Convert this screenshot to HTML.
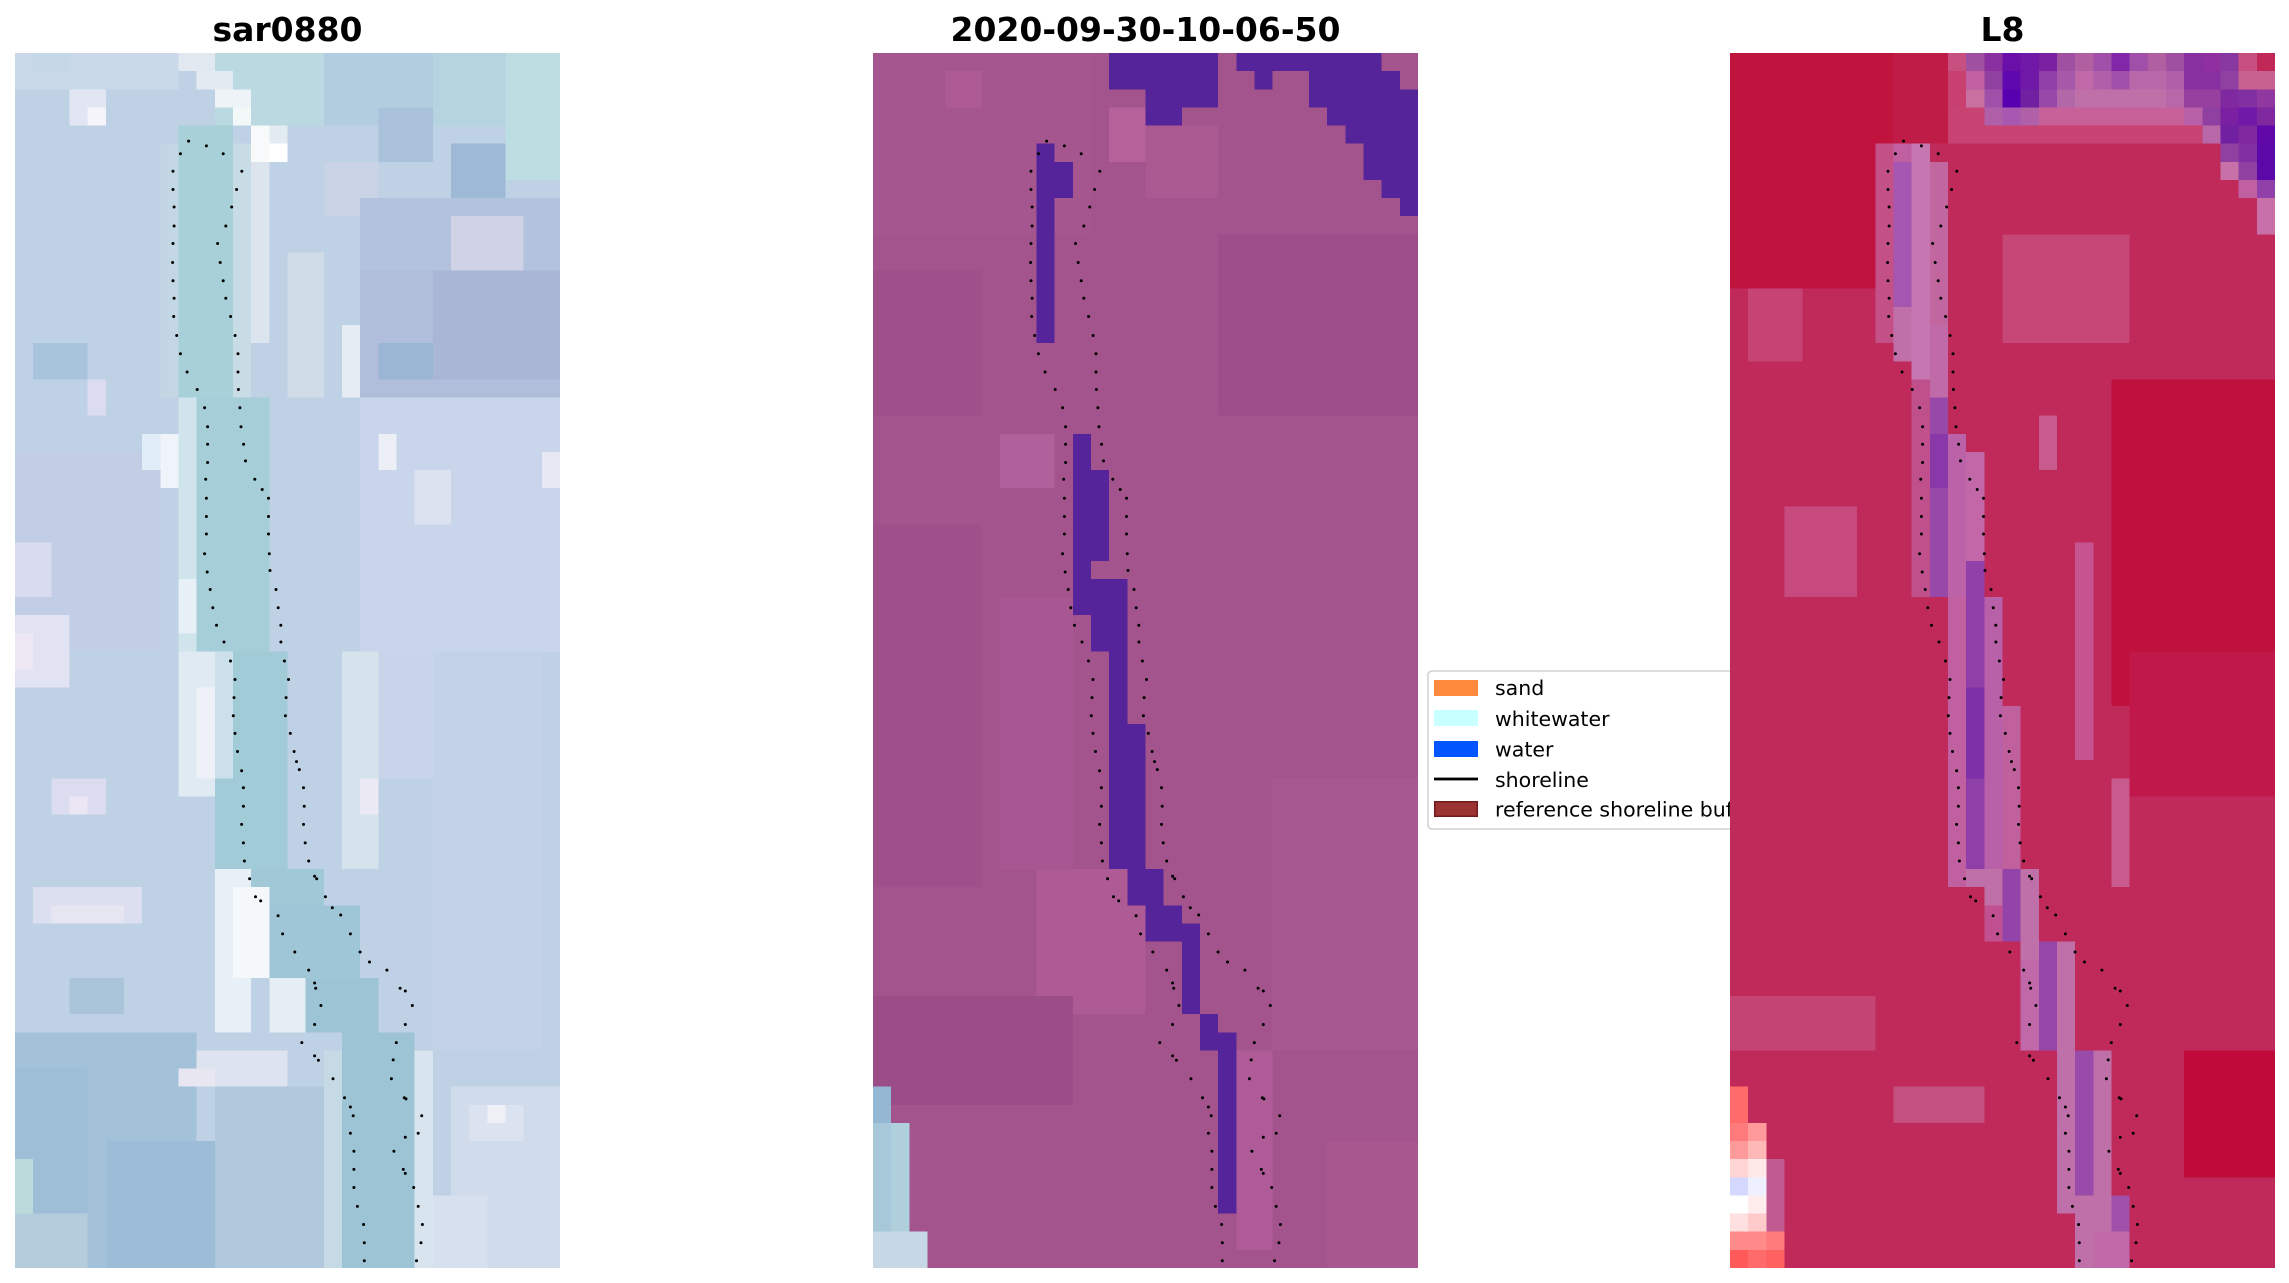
<!DOCTYPE html>
<html>
<head>
<meta charset="utf-8">
<style>
html,body{margin:0;padding:0;background:#fff;}
svg{display:block;}
.t{font-family:"DejaVu Sans","Liberation Sans",sans-serif;font-weight:bold;font-size:33px;fill:#000;}
.l{font-family:"DejaVu Sans","Liberation Sans",sans-serif;font-size:20.5px;fill:#000;}
</style>
</head>
<body>
<svg width="2289" height="1283" viewBox="0 0 2289 1283" xmlns="http://www.w3.org/2000/svg">
<defs>
<g id="dots" fill="#000">
<circle cx="165.4" cy="100.8" r="1.5"/><circle cx="158" cy="118.3" r="1.5"/><circle cx="158" cy="136.5" r="1.5"/><circle cx="159.1" cy="154" r="1.5"/><circle cx="159.1" cy="173" r="1.5"/><circle cx="158" cy="190.5" r="1.5"/><circle cx="157.6" cy="209.5" r="1.5"/><circle cx="158" cy="227.8" r="1.5"/><circle cx="159.1" cy="245.2" r="1.5"/><circle cx="158.7" cy="263.5" r="1.5"/><circle cx="161.7" cy="282.5" r="1.5"/><circle cx="165.4" cy="300.8" r="1.5"/><circle cx="172.1" cy="319" r="1.5"/><circle cx="182.2" cy="336.5" r="1.5"/><circle cx="189.6" cy="354.8" r="1.5"/><circle cx="192.6" cy="373.8" r="1.5"/><circle cx="192.6" cy="391.3" r="1.5"/><circle cx="192.6" cy="409.5" r="1.5"/><circle cx="190.7" cy="426.2" r="1.5"/><circle cx="191.4" cy="445.2" r="1.5"/><circle cx="191.4" cy="463.5" r="1.5"/><circle cx="191.4" cy="481" r="1.5"/><circle cx="189.6" cy="500.8" r="1.5"/><circle cx="192.2" cy="519" r="1.5"/><circle cx="195.2" cy="536.5" r="1.5"/><circle cx="197.8" cy="554.8" r="1.5"/><circle cx="201.5" cy="572.2" r="1.5"/>
<circle cx="209" cy="589" r="1.5"/><circle cx="215.5" cy="608" r="1.5"/><circle cx="220" cy="626.5" r="1.5"/><circle cx="219" cy="644.6" r="1.5"/><circle cx="218.3" cy="662.7" r="1.5"/><circle cx="220" cy="680.4" r="1.5"/><circle cx="222.5" cy="698.5" r="1.5"/><circle cx="226.6" cy="717.8" r="1.5"/><circle cx="228.4" cy="734.7" r="1.5"/><circle cx="228.4" cy="753.3" r="1.5"/><circle cx="226.6" cy="771.4" r="1.5"/><circle cx="228.4" cy="789.9" r="1.5"/><circle cx="229.4" cy="808" r="1.5"/><circle cx="234.6" cy="825.7" r="1.5"/><circle cx="240.5" cy="843.8" r="1.5"/><circle cx="245.7" cy="847.9" r="1.5"/><circle cx="263.1" cy="862.8" r="1.5"/><circle cx="267.6" cy="880.9" r="1.5"/><circle cx="279.8" cy="899" r="1.5"/><circle cx="293.7" cy="917.1" r="1.5"/><circle cx="299.6" cy="930" r="1.5"/><circle cx="300.7" cy="935.2" r="1.5"/><circle cx="305.9" cy="952.5" r="1.5"/><circle cx="299.6" cy="971.5" r="1.5"/><circle cx="286.8" cy="989.6" r="1.5"/><circle cx="299.6" cy="1002.9" r="1.5"/><circle cx="303.4" cy="1007.3" r="1.5"/><circle cx="318" cy="1025.8" r="1.5"/><circle cx="329.5" cy="1044.7" r="1.5"/><circle cx="335.4" cy="1054" r="1.5"/><circle cx="338.2" cy="1062.8" r="1.5"/><circle cx="335.4" cy="1080.2" r="1.5"/><circle cx="338.9" cy="1098.3" r="1.5"/><circle cx="338.9" cy="1116.4" r="1.5"/><circle cx="338.9" cy="1134.5" r="1.5"/><circle cx="342.4" cy="1153.4" r="1.5"/><circle cx="348.6" cy="1171.5" r="1.5"/><circle cx="349.3" cy="1189.7" r="1.5"/><circle cx="349.3" cy="1207.8" r="1.5"/>
<circle cx="173.6" cy="88.1" r="1.5"/><circle cx="191.4" cy="92.9" r="1.5"/><circle cx="208.2" cy="100.8" r="1.5"/><circle cx="226.8" cy="118.3" r="1.5"/><circle cx="221.6" cy="136.5" r="1.5"/><circle cx="216.7" cy="154" r="1.5"/><circle cx="210.8" cy="173" r="1.5"/><circle cx="202.6" cy="190.5" r="1.5"/><circle cx="205.2" cy="209.5" r="1.5"/><circle cx="208.2" cy="227.8" r="1.5"/><circle cx="210.8" cy="245.2" r="1.5"/><circle cx="215.6" cy="263.5" r="1.5"/><circle cx="220.1" cy="282.5" r="1.5"/><circle cx="223" cy="300.8" r="1.5"/><circle cx="223" cy="319" r="1.5"/><circle cx="223.4" cy="336.5" r="1.5"/><circle cx="224.9" cy="354.8" r="1.5"/><circle cx="226" cy="373.8" r="1.5"/><circle cx="228.6" cy="391.3" r="1.5"/><circle cx="230.5" cy="407.9" r="1.5"/><circle cx="239.8" cy="426.2" r="1.5"/><circle cx="247.2" cy="436.5" r="1.5"/><circle cx="253.5" cy="445.2" r="1.5"/><circle cx="253.5" cy="463.5" r="1.5"/><circle cx="253.5" cy="481" r="1.5"/><circle cx="254.3" cy="500.8" r="1.5"/><circle cx="255" cy="517.5" r="1.5"/><circle cx="261" cy="536.5" r="1.5"/><circle cx="263.2" cy="554.8" r="1.5"/><circle cx="265.8" cy="572.2" r="1.5"/>
<circle cx="265.9" cy="589" r="1.5"/><circle cx="269.4" cy="608" r="1.5"/><circle cx="273.5" cy="626.5" r="1.5"/><circle cx="271.1" cy="644.6" r="1.5"/><circle cx="270.4" cy="662.7" r="1.5"/><circle cx="275.3" cy="680.4" r="1.5"/><circle cx="279.1" cy="698.5" r="1.5"/><circle cx="281.5" cy="708.6" r="1.5"/><circle cx="284.3" cy="716.6" r="1.5"/><circle cx="288.5" cy="734.7" r="1.5"/><circle cx="289.2" cy="753.3" r="1.5"/><circle cx="288.5" cy="771.4" r="1.5"/><circle cx="290.2" cy="789.9" r="1.5"/><circle cx="293.7" cy="808" r="1.5"/><circle cx="299.6" cy="823.3" r="1.5"/><circle cx="301.7" cy="825.7" r="1.5"/><circle cx="310.4" cy="843.8" r="1.5"/><circle cx="317.3" cy="854.7" r="1.5"/><circle cx="325.7" cy="862" r="1.5"/><circle cx="335.4" cy="880.9" r="1.5"/><circle cx="345.1" cy="899" r="1.5"/><circle cx="354.5" cy="909" r="1.5"/><circle cx="371.9" cy="917.1" r="1.5"/><circle cx="385.1" cy="935.2" r="1.5"/><circle cx="390.3" cy="938" r="1.5"/><circle cx="397.3" cy="952.5" r="1.5"/><circle cx="390.3" cy="971.5" r="1.5"/><circle cx="381.3" cy="989.6" r="1.5"/><circle cx="378.2" cy="1006.9" r="1.5"/><circle cx="376.4" cy="1025.8" r="1.5"/><circle cx="389.3" cy="1044.7" r="1.5"/><circle cx="391" cy="1045.9" r="1.5"/><circle cx="406.7" cy="1062.8" r="1.5"/><circle cx="403.2" cy="1080.2" r="1.5"/><circle cx="390.3" cy="1084.2" r="1.5"/><circle cx="378.9" cy="1098.3" r="1.5"/><circle cx="388.3" cy="1116.4" r="1.5"/><circle cx="390.3" cy="1120.4" r="1.5"/><circle cx="398.7" cy="1134.5" r="1.5"/><circle cx="403.2" cy="1153.4" r="1.5"/><circle cx="407.4" cy="1171.5" r="1.5"/><circle cx="406" cy="1189.7" r="1.5"/><circle cx="401.5" cy="1207.8" r="1.5"/>
</g>
</defs>

<rect x="0" y="0" width="2289" height="1283" fill="#fff"/>

<!-- Titles -->
<text class="t" x="287.5" y="41" text-anchor="middle">sar0880</text>
<text class="t" x="1145.5" y="41" text-anchor="middle">2020-09-30-10-06-50</text>
<text class="t" x="2002.5" y="41" text-anchor="middle">L8</text>

<!-- Panel 1 -->
<g transform="translate(15,53) scale(18.1667,18.1343)" shape-rendering="crispEdges">
<rect x="0" y="0" width="30" height="67" fill="#bfd1e5"/>
<rect x="0" y="0" width="9" height="2" fill="#c9d9ea"/>
<rect x="1" y="0" width="2" height="1" fill="#c4d8e8"/>
<rect x="11" y="0" width="6" height="4" fill="#bad9e0"/>
<rect x="17" y="0" width="6" height="4" fill="#b2cde0"/>
<rect x="23" y="0" width="4" height="4" fill="#b6d3e0"/>
<rect x="27" y="0" width="3" height="7" fill="#bcdee2"/>
<rect x="3" y="2" width="2" height="2" fill="#e2e6f3"/>
<rect x="4" y="3" width="1" height="1" fill="#f4f4fa"/>
<rect x="20" y="3" width="3" height="3" fill="#a9c1da"/>
<rect x="24" y="5" width="3" height="3" fill="#9eb9d5"/>
<rect x="17" y="6" width="3" height="3" fill="#cad2e6"/>
<rect x="19" y="8" width="11" height="4" fill="#b3c2dd"/>
<rect x="24" y="9" width="4" height="3" fill="#d0d2e6"/>
<rect x="19" y="12" width="11" height="7" fill="#b0bedb"/>
<rect x="23" y="12" width="7" height="6" fill="#aab6d6"/>
<rect x="20" y="16" width="3" height="2" fill="#9ab6d4"/>
<rect x="15" y="11" width="2" height="8" fill="#d0dce8"/>
<rect x="18" y="15" width="1" height="4" fill="#e6ecf4"/>
<rect x="8" y="5" width="1" height="14" fill="#c2d6e3"/>
<rect x="9" y="4" width="3" height="15" fill="#a8d0d8"/>
<rect x="12" y="5" width="1" height="14" fill="#c8dce6"/>
<rect x="13" y="6" width="1" height="10" fill="#dce4ee"/>
<rect x="9" y="0" width="2" height="1" fill="#e2e8f0"/>
<rect x="10" y="1" width="2" height="1" fill="#e4eaf2"/>
<rect x="11" y="2" width="2" height="1" fill="#eef3f7"/>
<rect x="12" y="3" width="1" height="1" fill="#f2f7f8"/>
<rect x="13" y="4" width="1" height="2" fill="#f8f9fa"/>
<rect x="14" y="4" width="1" height="1" fill="#e2ecf0"/>
<rect x="14" y="5" width="1" height="1" fill="#ffffff"/>
<rect x="1" y="16" width="3" height="2" fill="#a8c4dc"/>
<rect x="4" y="18" width="1" height="2" fill="#dcdcf0"/>
<rect x="0" y="22" width="8" height="11" fill="#c2cee6"/>
<rect x="0" y="27" width="2" height="3" fill="#d8dcee"/>
<rect x="0" y="31" width="3" height="4" fill="#e2e3f2"/>
<rect x="0" y="32" width="1" height="2" fill="#eee8f4"/>
<rect x="23" y="19" width="6" height="36" fill="#c3d2e8"/>
<rect x="19" y="19" width="11" height="14" fill="#c8d5ea"/>
<rect x="20" y="21" width="1" height="2" fill="#eceff6"/>
<rect x="22" y="23" width="2" height="3" fill="#dde2f1"/>
<rect x="29" y="22" width="1" height="2" fill="#e6e8f4"/>
<rect x="20" y="33" width="3" height="7" fill="#c8d4ea"/>
<rect x="10" y="19" width="4" height="14" fill="#a6ced8"/>
<rect x="9" y="19" width="1" height="14" fill="#d0e4ec"/>
<rect x="8" y="21" width="1" height="3" fill="#eef4fa"/>
<rect x="7" y="21" width="1" height="2" fill="#e0ecf6"/>
<rect x="9" y="29" width="1" height="3" fill="#e6f0f6"/>
<rect x="11" y="33" width="4" height="12" fill="#a2cbd8"/>
<rect x="11" y="33" width="1" height="7" fill="#cbe0ea"/>
<rect x="13" y="45" width="4" height="2" fill="#a0c8d6"/>
<rect x="14" y="47" width="5" height="4" fill="#9fc6d6"/>
<rect x="16" y="51" width="4" height="3" fill="#9cc4d4"/>
<rect x="18" y="54" width="4" height="13" fill="#9cc4d4"/>
<rect x="17" y="55" width="1" height="12" fill="#c6dae6"/>
<rect x="22" y="55" width="1" height="12" fill="#d8e4ee"/>
<rect x="9" y="33" width="2" height="8" fill="#e0eaf3"/>
<rect x="10" y="35" width="1" height="5" fill="#eef2f8"/>
<rect x="18" y="33" width="2" height="12" fill="#d6e2ec"/>
<rect x="19" y="40" width="1" height="2" fill="#ebe9f3"/>
<rect x="11" y="45" width="2" height="9" fill="#e6f0f6"/>
<rect x="12" y="46" width="2" height="5" fill="#f4f8fb"/>
<rect x="14" y="51" width="2" height="3" fill="#e4eef4"/>
<rect x="2" y="40" width="3" height="2" fill="#dcdcf0"/>
<rect x="3" y="41" width="1" height="1" fill="#eae6f4"/>
<rect x="1" y="46" width="6" height="2" fill="#dcdff0"/>
<rect x="2" y="47" width="4" height="1" fill="#e6e6f3"/>
<rect x="3" y="51" width="3" height="2" fill="#aac5da"/>
<rect x="0" y="54" width="10" height="13" fill="#a4c1da"/>
<rect x="0" y="56" width="4" height="8" fill="#9ebdd6"/>
<rect x="5" y="60" width="7" height="7" fill="#9dbcd8"/>
<rect x="11" y="57" width="6" height="10" fill="#b0c8dc"/>
<rect x="10" y="55" width="5" height="2" fill="#dde3ef"/>
<rect x="9" y="56" width="2" height="1" fill="#e8e6f0"/>
<rect x="0" y="64" width="4" height="3" fill="#b4ccdc"/>
<rect x="0" y="61" width="1" height="3" fill="#bcdadc"/>
<rect x="24" y="57" width="6" height="10" fill="#d0dcec"/>
<rect x="25" y="58" width="3" height="2" fill="#dce3f0"/>
<rect x="26" y="58" width="1" height="1" fill="#eef0f6"/>
<rect x="23" y="63" width="3" height="4" fill="#d6e0ee"/>
</g>

<!-- Panel 2 -->
<g transform="translate(873,53) scale(18.1667,18.1343)" shape-rendering="crispEdges">
<rect x="0" y="0" width="30" height="67" fill="#a3548c"/>
<rect x="0" y="0" width="12" height="10" fill="#a5568e"/>
<rect x="4" y="1" width="2" height="2" fill="#ae5b95"/>
<rect x="0" y="12" width="6" height="8" fill="#9d5089"/>
<rect x="7" y="21" width="3" height="3" fill="#b0609a"/>
<rect x="13" y="3" width="2" height="3" fill="#b6619a"/>
<rect x="15" y="4" width="4" height="4" fill="#aa5991"/>
<rect x="19" y="10" width="11" height="10" fill="#9d4e8a"/>
<rect x="0" y="26" width="6" height="20" fill="#9e508a"/>
<rect x="9" y="45" width="6" height="8" fill="#ae5a94"/>
<rect x="0" y="52" width="11" height="6" fill="#9a4d87"/>
<rect x="20" y="55" width="2" height="11" fill="#ae5b97"/>
<rect x="22" y="40" width="8" height="15" fill="#a65890"/>
<rect x="7" y="30" width="4" height="15" fill="#a95792"/>
<rect x="25" y="60" width="5" height="7" fill="#a8578f"/>
<g fill="#55249b">
<rect x="13" y="0" width="6" height="2"/>
<rect x="15" y="2" width="2" height="2"/>
<rect x="17" y="2" width="2" height="1"/>
<rect x="20" y="0" width="8" height="1"/>
<rect x="21" y="1" width="1" height="1"/>
<rect x="24" y="1" width="5" height="1"/>
<rect x="24" y="2" width="6" height="1"/>
<rect x="25" y="3" width="5" height="1"/>
<rect x="26" y="4" width="4" height="1"/>
<rect x="27" y="5" width="3" height="2"/>
<rect x="28" y="7" width="2" height="1"/>
<rect x="29" y="8" width="1" height="1"/>
<rect x="9" y="5" width="1" height="11"/>
<rect x="10" y="6" width="1" height="2"/>
<rect x="11" y="21" width="1" height="8"/>
<rect x="12" y="23" width="1" height="5"/>
<rect x="11" y="29" width="3" height="2"/>
<rect x="12" y="31" width="2" height="2"/>
<rect x="13" y="33" width="1" height="12"/>
<rect x="14" y="37" width="1" height="8"/>
<rect x="14" y="45" width="2" height="2"/>
<rect x="15" y="47" width="2" height="2"/>
<rect x="17" y="48" width="1" height="5"/>
<rect x="18" y="53" width="1" height="2"/>
<rect x="19" y="54" width="1" height="10"/>
</g>
<rect x="0" y="57" width="1" height="2" fill="#94b8d4"/>
<rect x="0" y="59" width="1" height="6" fill="#a6c8d8"/>
<rect x="1" y="59" width="1" height="6" fill="#aecfdb"/>
<rect x="0" y="65" width="3" height="2" fill="#c6d8e6"/>
</g>

<!-- Legend (drawn under panel 3) -->
<g>
<rect x="1428" y="671" width="340" height="158" rx="4" ry="4" fill="#fff" stroke="#d0d0d0" stroke-width="1.5"/>
<rect x="1434" y="680" width="44" height="16" fill="#ff8a3d"/>
<text class="l" x="1495" y="695">sand</text>
<rect x="1434" y="710" width="44" height="16" fill="#c8ffff"/>
<text class="l" x="1495" y="726">whitewater</text>
<rect x="1434" y="741" width="44" height="16" fill="#0055ff"/>
<text class="l" x="1495" y="756.5">water</text>
<rect x="1434" y="777.6" width="44" height="2.8" fill="#000"/>
<text class="l" x="1495" y="787">shoreline</text>
<rect x="1434.7" y="801.7" width="42.6" height="14.6" fill="#9b3333" stroke="#6e1a1a" stroke-width="1.4"/>
<text class="l" x="1495" y="816.5">reference shoreline buffer</text>
</g>

<!-- Panel 3 -->
<g transform="translate(1730,53) scale(18.1667,18.1343)" shape-rendering="crispEdges">
<rect x="0" y="0" width="30" height="67" fill="#c02a5a"/>
<rect x="0" y="0" width="9" height="13" fill="#c0143f"/>
<rect x="9" y="0" width="3" height="5" fill="#c01c48"/>
<rect x="21" y="18" width="9" height="18" fill="#c0103c"/>
<rect x="22" y="33" width="8" height="8" fill="#c0184a"/>
<rect x="25" y="55" width="5" height="7" fill="#c00a3a"/>
<rect x="15" y="10" width="7" height="6" fill="#c64676"/>
<rect x="1" y="13" width="3" height="4" fill="#c64474"/>
<rect x="3" y="25" width="4" height="5" fill="#c64a7e"/>
<rect x="0" y="52" width="8" height="3" fill="#c44474"/>
<rect x="9" y="57" width="5" height="2" fill="#c45080"/>
<rect x="17" y="20" width="1" height="3" fill="#c85a8e"/>
<rect x="19" y="27" width="1" height="12" fill="#c65490"/>
<rect x="21" y="40" width="1" height="6" fill="#c85a8e"/>
<rect x="12" y="3" width="14" height="2" fill="#c84272"/>
<!-- top purple -->
<rect x="12" y="0" width="1" height="1" fill="#c85080"/><rect x="13" y="0" width="1" height="1" fill="#a050a0"/><rect x="14" y="0" width="1" height="1" fill="#8a30a0"/><rect x="15" y="0" width="1" height="1" fill="#6a10a8"/><rect x="16" y="0" width="1" height="1" fill="#7018a8"/><rect x="17" y="0" width="1" height="1" fill="#7a20a0"/><rect x="18" y="0" width="1" height="1" fill="#a050a0"/><rect x="19" y="0" width="1" height="1" fill="#b060a0"/><rect x="20" y="0" width="1" height="1" fill="#a050a8"/><rect x="21" y="0" width="1" height="1" fill="#8028a8"/><rect x="22" y="0" width="1" height="1" fill="#a050a8"/><rect x="23" y="0" width="1" height="1" fill="#b060a0"/><rect x="24" y="0" width="1" height="1" fill="#a050a0"/><rect x="25" y="0" width="1" height="1" fill="#8830a0"/><rect x="26" y="0" width="1" height="1" fill="#9030a0"/><rect x="27" y="0" width="1" height="1" fill="#8838a0"/><rect x="28" y="0" width="1" height="1" fill="#c85080"/><rect x="29" y="0" width="1" height="1" fill="#c02858"/>
<rect x="12" y="1" width="1" height="1" fill="#c84070"/><rect x="13" y="1" width="1" height="1" fill="#c060a0"/><rect x="14" y="1" width="1" height="1" fill="#9040a0"/><rect x="15" y="1" width="1" height="1" fill="#6008b0"/><rect x="16" y="1" width="1" height="1" fill="#7018a8"/><rect x="17" y="1" width="1" height="1" fill="#9040a8"/><rect x="18" y="1" width="1" height="1" fill="#a858a8"/><rect x="19" y="1" width="1" height="1" fill="#c068a8"/><rect x="20" y="1" width="1" height="1" fill="#b060a8"/><rect x="21" y="1" width="1" height="1" fill="#a050a8"/><rect x="22" y="1" width="2" height="1" fill="#b868a8"/><rect x="24" y="1" width="1" height="1" fill="#b060a8"/><rect x="25" y="1" width="2" height="1" fill="#8830a0"/><rect x="27" y="1" width="1" height="1" fill="#9040a0"/><rect x="28" y="1" width="2" height="1" fill="#c86090"/>
<rect x="12" y="2" width="1" height="1" fill="#c84070"/><rect x="13" y="2" width="1" height="1" fill="#c870a0"/><rect x="14" y="2" width="1" height="1" fill="#a050a8"/><rect x="15" y="2" width="1" height="1" fill="#5800b0"/><rect x="16" y="2" width="1" height="1" fill="#7020a0"/><rect x="17" y="2" width="1" height="1" fill="#9848a8"/><rect x="18" y="2" width="1" height="1" fill="#b068a8"/><rect x="19" y="2" width="5" height="1" fill="#c070a8"/><rect x="24" y="2" width="1" height="1" fill="#b868a8"/><rect x="25" y="2" width="2" height="1" fill="#9840a0"/><rect x="27" y="2" width="1" height="1" fill="#8028a0"/><rect x="28" y="2" width="1" height="1" fill="#8030a0"/><rect x="29" y="2" width="1" height="1" fill="#9038a0"/>
<rect x="14" y="3" width="1" height="1" fill="#b060a8"/><rect x="15" y="3" width="1" height="1" fill="#a858b0"/><rect x="16" y="3" width="1" height="1" fill="#b060a8"/><rect x="17" y="3" width="8" height="1" fill="#c8609a"/><rect x="25" y="3" width="1" height="1" fill="#b860a8"/><rect x="26" y="3" width="1" height="1" fill="#9040a0"/><rect x="27" y="3" width="1" height="1" fill="#7a20a0"/><rect x="28" y="3" width="1" height="1" fill="#7018a8"/><rect x="29" y="3" width="1" height="1" fill="#8028a0"/>
<rect x="26" y="4" width="1" height="1" fill="#b868a8"/><rect x="27" y="4" width="1" height="1" fill="#7020a0"/><rect x="28" y="4" width="1" height="1" fill="#8028a0"/><rect x="29" y="4" width="1" height="1" fill="#6008a8"/>
<rect x="27" y="5" width="1" height="1" fill="#9040a0"/><rect x="28" y="5" width="1" height="1" fill="#8030a0"/><rect x="29" y="5" width="1" height="1" fill="#5a08a8"/>
<rect x="27" y="6" width="1" height="1" fill="#c870a8"/><rect x="28" y="6" width="1" height="1" fill="#9040a0"/><rect x="29" y="6" width="1" height="1" fill="#5a08a8"/>
<rect x="28" y="7" width="1" height="1" fill="#c060a0"/><rect x="29" y="7" width="1" height="1" fill="#9040a8"/>
<rect x="29" y="8" width="1" height="2" fill="#c870a8"/>
<!-- channel -->
<rect x="8" y="5" width="1" height="11" fill="#c45088"/>
<rect x="9" y="5" width="1" height="11" fill="#c060a0"/>
<rect x="9" y="6" width="1" height="8" fill="#a456b0"/>
<rect x="10" y="5" width="1" height="13" fill="#c676b0"/>
<rect x="11" y="6" width="1" height="9" fill="#c266a0"/>
<rect x="9" y="14" width="1" height="3" fill="#c070a8"/>
<rect x="11" y="15" width="1" height="4" fill="#c06aa8"/>
<rect x="10" y="18" width="1" height="12" fill="#c0508c"/>
<rect x="11" y="19" width="1" height="11" fill="#9848a8"/>
<rect x="11" y="21" width="1" height="3" fill="#8838a8"/>
<rect x="12" y="21" width="1" height="9" fill="#bc62a8"/>
<rect x="13" y="22" width="1" height="6" fill="#c268a8"/>
<rect x="13" y="28" width="1" height="2" fill="#9040a8"/>
<rect x="12" y="30" width="1" height="16" fill="#c060a0"/>
<rect x="13" y="30" width="1" height="15" fill="#8e40a8"/>
<rect x="13" y="35" width="1" height="5" fill="#7e30a8"/>
<rect x="14" y="30" width="1" height="16" fill="#b860a8"/>
<rect x="15" y="36" width="1" height="10" fill="#c0609c"/>
<rect x="13" y="45" width="1" height="1" fill="#c070a8"/>
<rect x="14" y="45" width="1" height="2" fill="#c070a8"/>
<rect x="14" y="47" width="1" height="2" fill="#c05090"/>
<rect x="15" y="45" width="1" height="4" fill="#9444a8"/>
<rect x="16" y="45" width="1" height="5" fill="#c070a8"/>
<rect x="16" y="50" width="1" height="5" fill="#c068a8"/>
<rect x="17" y="49" width="1" height="6" fill="#9646a8"/>
<rect x="18" y="49" width="1" height="7" fill="#c070a8"/>
<rect x="18" y="56" width="1" height="8" fill="#c070a8"/>
<rect x="19" y="55" width="1" height="8" fill="#9a4aa8"/>
<rect x="20" y="55" width="1" height="10" fill="#c070a8"/>
<rect x="19" y="63" width="1" height="4" fill="#c070a8"/>
<rect x="21" y="63" width="1" height="3" fill="#a050a8"/>
<rect x="20" y="65" width="2" height="2" fill="#c068a8"/>
<!-- bottom-left salmon -->
<rect x="0" y="57" width="1" height="2" fill="#ff6a6a"/>
<rect x="0" y="59" width="1" height="1" fill="#ff7a7a"/>
<rect x="0" y="60" width="1" height="1" fill="#ff9a9a"/>
<rect x="0" y="61" width="1" height="1" fill="#ffd4d4"/>
<rect x="0" y="62" width="1" height="1" fill="#d4d8ff"/>
<rect x="0" y="63" width="1" height="1" fill="#ffffff"/>
<rect x="0" y="64" width="1" height="1" fill="#ffe0e0"/>
<rect x="0" y="65" width="1" height="1" fill="#ff8a8a"/>
<rect x="0" y="66" width="1" height="1" fill="#ff5a5a"/>
<rect x="1" y="59" width="1" height="1" fill="#ff9a9a"/>
<rect x="1" y="60" width="1" height="1" fill="#ffb8b8"/>
<rect x="1" y="61" width="1" height="1" fill="#ffe8e8"/>
<rect x="1" y="62" width="1" height="1" fill="#eef0ff"/>
<rect x="1" y="63" width="1" height="1" fill="#ffecec"/>
<rect x="1" y="64" width="1" height="1" fill="#ffcaca"/>
<rect x="1" y="65" width="1" height="1" fill="#ff8a8a"/>
<rect x="1" y="66" width="1" height="1" fill="#ff6a6a"/>
<rect x="2" y="61" width="1" height="4" fill="#c05a90"/>
<rect x="2" y="65" width="1" height="1" fill="#ff7a7a"/>
<rect x="2" y="66" width="1" height="1" fill="#ff6060"/>
</g>

<!-- Shoreline dots -->
<use href="#dots" x="15" y="53"/>
<use href="#dots" x="873" y="53"/>
<use href="#dots" x="1730" y="53"/>
</svg>
</body>
</html>
